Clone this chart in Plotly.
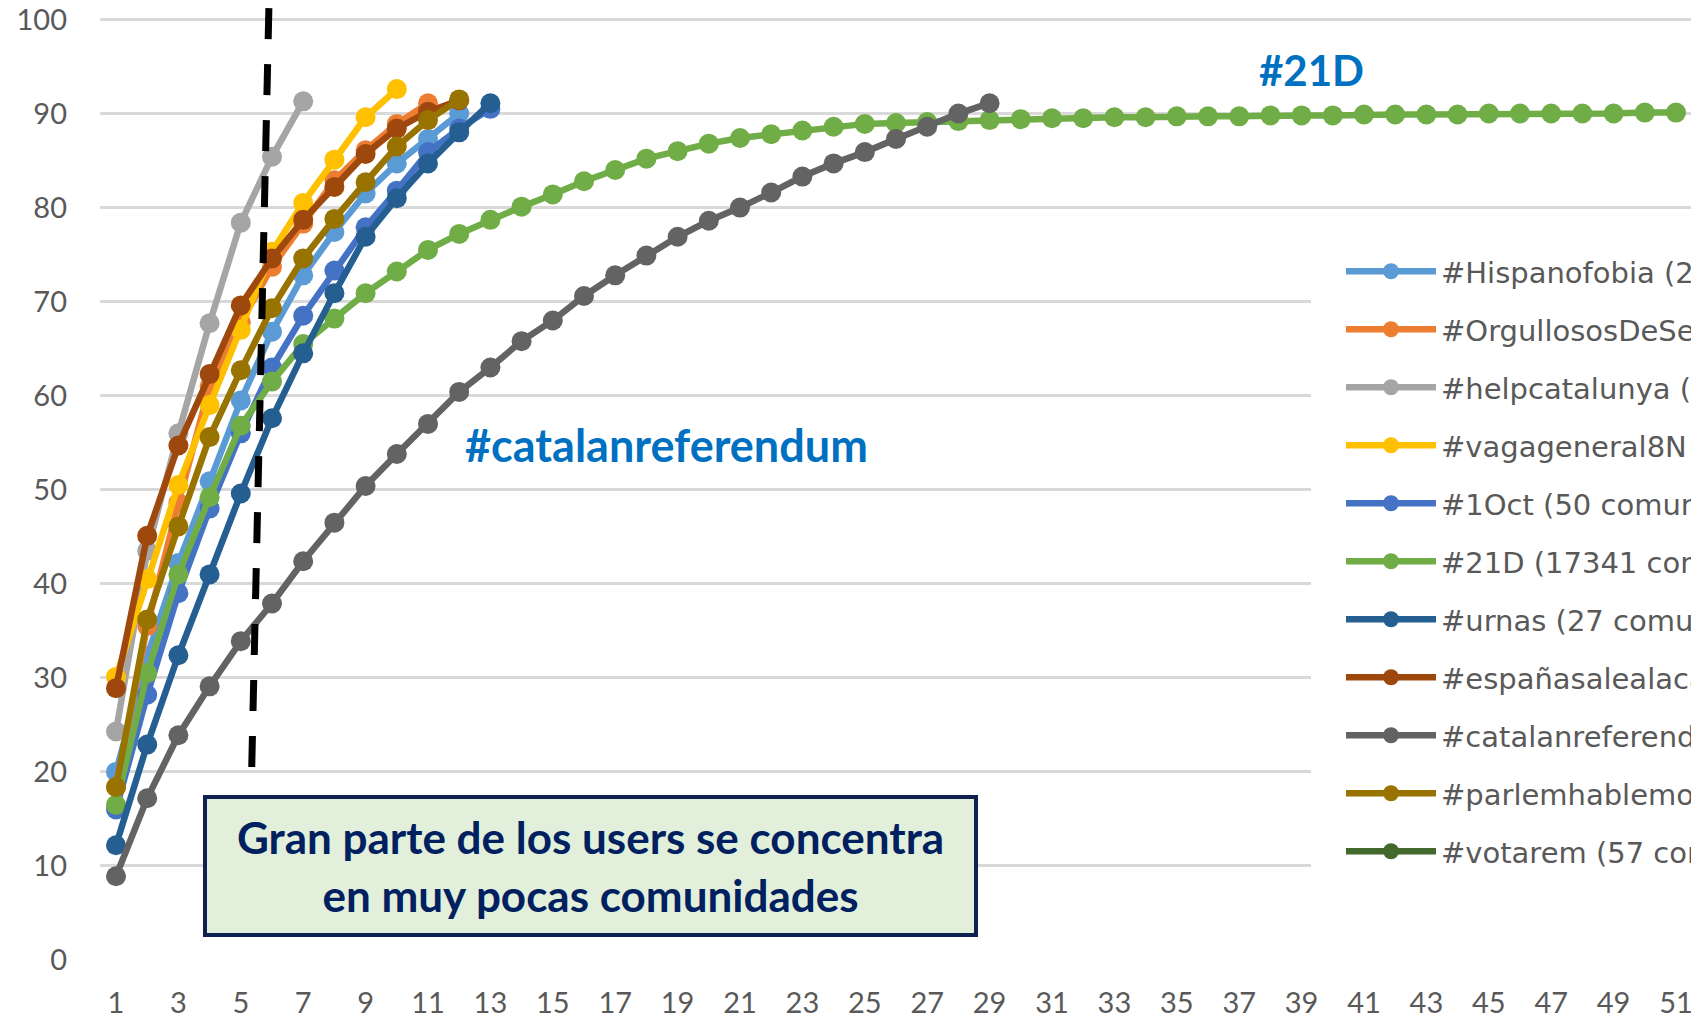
import plotly.graph_objects as go

# ---- data (cumulative % of users vs. number of communities) ----
hispanofobia = [20.0, 32.3, 42.2, 50.9, 59.5, 66.8, 72.8, 77.4, 81.5, 84.7, 87.3, 90.0]
orgullosos = [18.4, 35.5, 48.6, 61.0, 67.8, 73.7, 78.3, 82.9, 86.1, 88.9, 91.1]
helpcatalunya = [24.3, 43.5, 56.0, 67.7, 78.4, 85.4, 91.3]
vagageneral8n = [30.1, 40.5, 50.5, 59.0, 67.0, 75.3, 80.5, 85.1, 89.6, 92.6]
oct1 = [16.0, 28.2, 39.0, 48.0, 56.0, 63.0, 68.5, 73.3, 77.9, 81.8, 85.9, 88.4, 90.5]
d21 = [16.5, 30.5, 41.0, 49.2, 56.8, 61.5, 65.5, 68.2, 70.9, 73.2, 75.5, 77.2, 78.7,
       80.1, 81.4, 82.8, 84.0, 85.2, 86.0, 86.8, 87.4, 87.8, 88.2, 88.6, 88.9, 89.0,
       89.1, 89.2, 89.3, 89.4, 89.5, 89.5, 89.6, 89.6, 89.7, 89.7, 89.7, 89.8, 89.8,
       89.8, 89.9, 89.9, 89.9, 89.9, 90.0, 90.0, 90.0, 90.0, 90.0, 90.1, 90.1]
urnas = [12.2, 22.9, 32.4, 41.0, 49.6, 57.6, 64.5, 70.9, 76.9, 81.0, 84.7, 88.0, 91.1]
espanasalealacalle = [28.9, 45.1, 54.7, 62.3, 69.6, 74.6, 78.7, 82.2, 85.7, 88.4, 90.2, 91.4]
catalanreferendum = [8.9, 17.2, 23.9, 29.1, 33.9, 37.9, 42.4, 46.5, 50.4, 53.8, 57.0, 60.4,
                     63.0, 65.8, 68.0, 70.6, 72.8, 74.9, 76.9, 78.6, 80.0, 81.6, 83.3,
                     84.7, 85.9, 87.3, 88.6, 90.0, 91.1]
parlemhablemos = [18.4, 36.2, 46.1, 55.6, 62.7, 69.3, 74.6, 78.8, 82.7, 86.5, 89.3, 91.5]
votarem = []  # not visible in the chart, legend entry only

names = [
    "#Hispanofobia (23 comunidades)",
    "#OrgullososDeSerEspañoles (31 comunidades)",
    "#helpcatalunya (12 comunidades)",
    "#vagageneral8N (25 comunidades)",
    "#1Oct (50 comunidades)",
    "#21D (17341 comunidades)",
    "#urnas (27 comunidades)",
    "#españasalealacalle (40 comunidades)",
    "#catalanreferendum (93 comunidades)",
    "#parlemhablemos (36 comunidades)",
    "#votarem (57 comunidades)",
]
colors = ["#5B9BD5", "#ED7D31", "#A5A5A5", "#FFC000", "#4472C4", "#70AD47",
          "#255E91", "#9E480E", "#636363", "#997300", "#43682B"]
values = [hispanofobia, orgullosos, helpcatalunya, vagageneral8n, oct1, d21,
          urnas, espanasalealacalle, catalanreferendum, parlemhablemos, votarem]

x_ticks = list(range(1, 52, 2))
y_ticks = list(range(0, 101, 10))

FONT = "Lato"
LEG_FONT = "DejaVu Sans"
W, H = 1691, 1017
ML, MB = 100, 56.5
PX_X = 31.2
PX_Y = 9.41
PW, PH = W - ML, H - MB

fig = go.Figure()
for i, (name, color, vals) in enumerate(zip(names, colors, values)):
    xs = list(range(1, len(vals) + 1)) if vals else [1]
    ys = vals if vals else [None]
    fig.add_trace(go.Scatter(
        x=xs, y=ys, name=name, mode="lines+markers", legendgroup=f"g{i}",
        line=dict(color=color, width=6.5),
        marker=dict(color=color, size=20),
    ))

x0 = 1 - 16 / PX_X
x_range = [x0, x0 + PW / PX_X]
y_range = [0, PH / PX_Y]

fig.update_layout(
    width=W, height=H,
    margin=dict(l=ML, r=0, t=0, b=MB, pad=0, autoexpand=False),
    paper_bgcolor="white", plot_bgcolor="white",
    font=dict(family=FONT, color="#595959"),
    showlegend=True,
    legend=dict(
        x=(1341 - ML) / PW, y=(PH - 246) / PH,
        xanchor="left", yanchor="top",
        bgcolor="white", borderwidth=0,
        font=dict(family=LEG_FONT, size=29, color="#595959"),
        tracegroupgap=17.3, itemwidth=90,
    ),
    xaxis=dict(
        range=x_range, tickmode="array", tickvals=x_ticks,
        ticktext=[str(v) for v in x_ticks],
        showgrid=False, zeroline=False, showline=False, ticks="",
        tickfont=dict(family=FONT, size=29, color="#595959"),
        ticklabelstandoff=23, ticklabeloverflow="allow",
    ),
    yaxis=dict(
        range=y_range, tickmode="array", tickvals=y_ticks,
        showgrid=True, gridcolor="#D9D9D9", gridwidth=2.5,
        zeroline=False, showline=False, ticks="",
        tickfont=dict(family=FONT, size=29, color="#595959"),
        ticklabelstandoff=32,
    ),
)

# white backdrop extending the legend box to the left (hides gridlines there)
fig.add_shape(type="rect", xref="paper", yref="paper", layer="above",
              x0=(1311 - ML) / PW, x1=(1360 - ML) / PW,
              y0=(PH - 880) / PH, y1=(PH - 250) / PH,
              line=dict(width=0), fillcolor="white")

# dashed separator
fig.add_shape(type="line", xref="x", yref="y",
              x0=5.90, y0=101.2, x1=5.35, y1=20.45,
              line=dict(color="black", width=7, dash="31px,25px"))

# labels
fig.add_annotation(text="<b>#21D</b>", xref="paper", yref="paper",
                   x=(1311.7 - ML) / PW, y=(PH - 70) / PH,
                   xanchor="center", yanchor="middle",
                   showarrow=False, font=dict(family=FONT, size=42, color="#0070C0"))
fig.add_annotation(text="<b>#catalanreferendum</b>", xref="paper", yref="paper",
                   x=(666.7 - ML) / PW, y=(PH - 445) / PH,
                   xanchor="center", yanchor="middle",
                   showarrow=False, font=dict(family=FONT, size=45, color="#0070C0"))
fig.add_annotation(text="<b>Gran parte de los users se concentra<br>en muy pocas comunidades</b>",
                   xref="paper", yref="paper",
                   x=(590.5 - ML) / PW, y=(PH - 866) / PH,
                   xanchor="center", yanchor="middle",
                   showarrow=False, align="center",
                   width=767, height=134, borderpad=0, borderwidth=4,
                   bordercolor="#0E2150", bgcolor="#E2EFDA",
                   font=dict(family=FONT, size=44, color="#002060"))

fig.write_html("out.html",
               config={"displayModeBar": False},
               post_script="document.body.style.margin='0';document.body.style.overflow='hidden';")
